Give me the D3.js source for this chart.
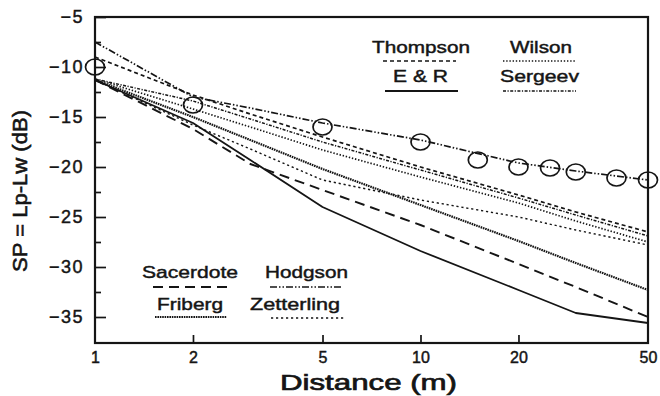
<!DOCTYPE html>
<html><head><meta charset="utf-8">
<script src="https://cdn.jsdelivr.net/npm/d3@7"></script>
<style>
body{margin:0;background:#fff}
svg{display:block}
text{font-family:"Liberation Sans",Arial,Helvetica,sans-serif;fill:#151515;stroke:#151515;stroke-width:0.45px}
</style>
</head><body><svg id="c" width="660" height="396"></svg>
<script>
// ---- data ----
const distances  = [1, 2, 3, 5, 10, 20, 30, 50];
const thompson   = [-9.0, -12.8, -14.7, -17.0, -20.0, -22.8, -24.5, -26.5];
const wilson     = [-11.2, -14.2, -16.0, -18.3, -21.0, -23.6, -25.4, -27.5];
const eAndR      = [-11.3, -15.6, -19.3, -24.0, -28.4, -32.3, -34.6, -35.6];
const sergeev    = [-11.2, -13.4, -15.2, -17.5, -20.3, -23.1, -24.8, -26.9];
const sacerdote  = [-11.3, -16.2, -19.7, -22.3, -25.8, -29.7, -32.0, -35.0];
const hodgson    = [-7.5, -13.0, -14.1, -15.6, -17.3, -19.6, -20.4, -21.3];
const friberg    = [-11.3, -15.0, -17.3, -20.2, -23.8, -27.4, -29.6, -32.3];
const zetterling = [-11.3, -15.8, -18.2, -21.3, -23.3, -25.0, -26.3, -27.8];
const measuredDistances = [1, 2, 5, 10, 15, 20, 25, 30, 40, 50];
const measured          = [-10.0, -13.8, -16.0, -17.5, -19.3, -20.0, -20.1, -20.5, -21.1, -21.3];
const xTickValues = [1, 2, 5, 10, 20, 50];
const yTickValues = [-5, -10, -15, -20, -25, -30, -35];
const yMinorTickValues = [-7.5, -12.5, -17.5, -22.5, -27.5, -32.5];
const seriesNames = ["Thompson", "Wilson", "E & R", "Sergeev", "Sacerdote", "Hodgson", "Friberg", "Zetterling"];
const seriesValues = [thompson, wilson, eAndR, sergeev, sacerdote, hodgson, friberg, zetterling];
const xTitle = "Distance (m)";
const yTitle = "SP = Lp-Lw (dB)";

// ---- styles ----
const styles = {
  "Thompson":   {dash: "4,3",            w: 1.7},
  "Wilson":     {dash: "1.4,1.8",        w: 1.7},
  "E & R":      {dash: null,             w: 1.8},
  "Sergeev":    {dash: "3,1.5,1.2,1.5",  w: 1.5},
  "Sacerdote":  {dash: "10,6",           w: 1.9},
  "Hodgson":    {dash: "7,2,1.5,2,1.5,2",w: 1.7},
  "Friberg":    {dash: "1.6,0.8",        w: 2.2},
  "Zetterling": {dash: "2.2,2.8",        w: 1.4}
};
// legend layout: [textLeft, textRight, baseline, lineX1, lineX2, lineY]
const legendLayout = {
  "Thompson":   [372, 470, 53, 383, 456, 61],
  "Wilson":     [510, 572, 53, 503, 576, 61],
  "E & R":      [393, 448, 82, 385, 458, 91],
  "Sergeev":    [500, 579, 82, 503, 576, 91],
  "Sacerdote":  [142, 238, 278, 153, 228, 287],
  "Hodgson":    [265, 348, 278, 270, 343, 287],
  "Friberg":    [157, 223, 310, 155, 227, 317],
  "Zetterling": [250, 340, 310, 271, 345, 318]
};

const svg = d3.select("#c");
const x = d3.scaleLog().domain([1, 50]).range([95, 648]);
const y = d3.scaleLinear().domain([-5, -37.6]).range([17, 343]);
const ink = "#151515";

// series lines
const line = d3.line().x((d, i) => x(distances[i])).y(d => y(d));
seriesNames.forEach((name, k) => {
  const s = styles[name];
  svg.append("path").datum(seriesValues[k])
    .attr("d", line).attr("fill", "none")
    .attr("stroke", ink).attr("stroke-width", s.w)
    .attr("stroke-dasharray", s.dash)
    .attr("stroke-linejoin", "round");
});

// measured circles
svg.append("g").selectAll("ellipse").data(measured).join("ellipse")
  .attr("cx", (d, i) => x(measuredDistances[i]))
  .attr("cy", d => y(d))
  .attr("rx", 9.5).attr("ry", 8)
  .attr("fill", "none").attr("stroke", ink).attr("stroke-width", 1.7);

// axes
const yAxis = d3.axisLeft(y).tickValues(yTickValues).tickSize(-11).tickPadding(11).tickFormat(d3.format("d"));
const gy = svg.append("g").attr("transform", "translate(95,0)").call(yAxis);
gy.select(".domain").remove();
gy.selectAll("line").attr("stroke", ink).attr("stroke-width", 1.7);
gy.selectAll("text").style("font-size", "18px").style("letter-spacing", "1.5px").attr("fill", ink);

const yMinor = d3.axisLeft(y).tickValues(yMinorTickValues).tickSize(-6).tickFormat("");
const gym = svg.append("g").attr("transform", "translate(95,0)").call(yMinor);
gym.select(".domain").remove();
gym.selectAll("line").attr("stroke", ink).attr("stroke-width", 1.7);

const xAxis = d3.axisBottom(x).tickValues(xTickValues).tickSize(-8).tickPadding(9).tickFormat(d3.format("d"));
const gx = svg.append("g").attr("transform", "translate(0,343)").call(xAxis);
gx.select(".domain").remove();
gx.selectAll("line").attr("stroke", ink).attr("stroke-width", 1.7)
  .filter(d => d === 1 || d === 50).remove();
gx.selectAll("text").style("font-size", "16px").attr("fill", ink);

// frame
svg.append("rect").attr("x", 95).attr("y", 17).attr("width", 553).attr("height", 326)
  .attr("fill", "none").attr("stroke", ink).attr("stroke-width", 2.2);

// axis titles
svg.append("text").attr("x", 368.5).attr("y", 390).attr("text-anchor", "middle")
  .attr("textLength", 177).attr("lengthAdjust", "spacingAndGlyphs")
  .style("font-size", "22px").style("stroke-width", "0.7px").text(xTitle);
svg.append("text").attr("transform", "translate(27,191) rotate(-90)").attr("text-anchor", "middle")
  .attr("textLength", 162).attr("lengthAdjust", "spacingAndGlyphs")
  .style("font-size", "21px").style("stroke-width", "0.6px").text(yTitle);

// legend
seriesNames.forEach(name => {
  const L = legendLayout[name], s = styles[name];
  svg.append("text").attr("x", L[0]).attr("y", L[2])
    .attr("textLength", L[1] - L[0]).attr("lengthAdjust", "spacingAndGlyphs")
    .style("font-size", "17px").text(name);
  svg.append("line").attr("x1", L[3]).attr("x2", L[4]).attr("y1", L[5]).attr("y2", L[5])
    .attr("stroke", ink).attr("stroke-width", s.w).attr("stroke-dasharray", s.dash);
});
</script>
</body></html>
